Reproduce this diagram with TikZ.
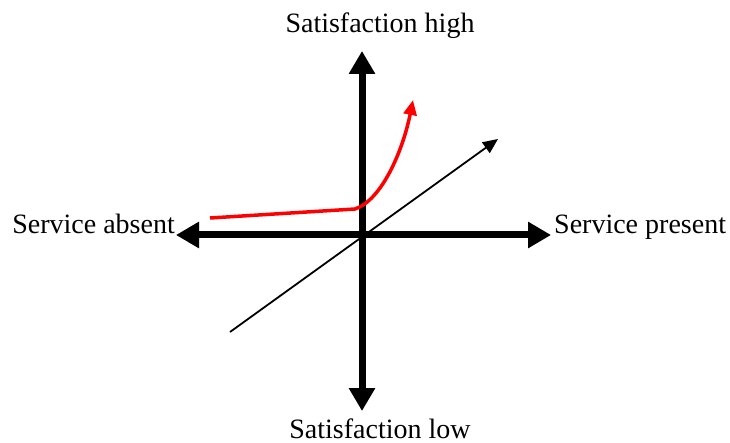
\documentclass[tikz,border=0pt]{standalone}
\usepackage{fontspec}
\setmainfont{Liberation Serif}
\usetikzlibrary{arrows.meta}
\begin{document}
\begin{tikzpicture}[x=1pt,y=-1pt,
  axis/.style={line width=7pt,-{Triangle[length=23pt,width=25pt]}},
  axshadow/.style={axis,draw=black!18,shift={(2,3)}},
  lbl/.style={font=\fontsize{28}{34}\selectfont,inner sep=0pt},
  redcurve/.style={red,line width=3.5pt,-{Triangle[length=15pt,width=13pt]}},
  diag/.style={black,line width=1.8pt,-{Triangle[length=15pt,width=13pt]}}]
\useasboundingbox (0,0) rectangle (730,443);
\coordinate (O) at (362,235);
\coordinate (T) at (362,51);
\coordinate (B) at (362,411);
\coordinate (L) at (176,235);
\coordinate (R) at (551,235);
\coordinate (d1) at (230,332);
\coordinate (d2) at (498,139);
\coordinate (r0) at (210,218);
\coordinate (r1) at (355,209);
\coordinate (r2) at (413,100);
% shadows
\draw[axshadow] (O) -- (T);
\draw[axshadow] (O) -- (B);
\draw[axshadow] (O) -- (L);
\draw[axshadow] (O) -- (R);
% axes
\draw[axis] (O) -- (T);
\draw[axis] (O) -- (B);
\draw[axis] (O) -- (L);
\draw[axis] (O) -- (R);
% diagonal
\draw[diag] (d1) -- (d2);
% red curve
\draw[redcurve] (r0) -- (r1) .. controls (382,200) and (403,150) .. (r2);
% labels
\node[lbl,anchor=base] (high) at (380,33) {Satisfaction high};
\node[lbl,anchor=base] (low) at (380,438) {Satisfaction low};
\node[lbl,anchor=base east] (absent) at (175,234) {Service absent};
\node[lbl,anchor=base west] (present) at (554,234) {Service present};
\end{tikzpicture}
\end{document}
